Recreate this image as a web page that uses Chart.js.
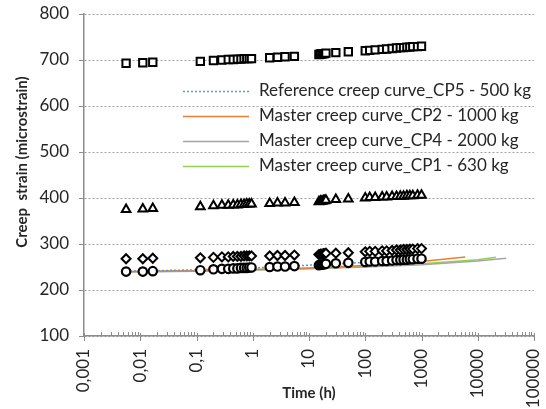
<!DOCTYPE html>
<html><head><meta charset="utf-8">
<script src="https://cdn.jsdelivr.net/npm/chart.js@4/dist/chart.umd.min.js"></script>
<style>html,body{margin:0;padding:0;background:#fff}</style>
</head><body>
<canvas id="c" width="546" height="409"></canvas>
<script>
// ---- data ----
const xTickLabels = ['0,001','0,01','0,1','1','10','100','1000','10000','100000'];

// measurement times (h), shared by the four test series
const timesH = [0.0056,0.0111,0.0167,0.117,0.2,0.283,0.367,0.45,0.533,0.617,0.7,0.783,0.867,0.95,
  2,2.75,3.75,5.5,15,16,17,18,19,20,30,50,100,120,150,200,240,300,360,420,480,550,620,700,850,1000];

const strainSquares = [693,694,695,697,699,700,701,701,702,702,703,703,703,703,
  705,706,707,708,712,713,713,714,714,715,716,718,720,721,722,723,724,725,726,727,727,728,728,729,729,730];
const strainTriangles = [375,376,377,381,383,384,384,385,385,386,386,387,387,387,
  388,389,389,390,392,393,393,394,394,395,397,398,400,401,401,402,402,403,403,404,404,405,405,405,406,406];
const strainDiamonds = [268,268,269,270,271,272,272,273,273,273,274,274,274,274,
  274,275,275,276,277,278,278,279,279,280,280,281,283,284,284,285,285,286,287,287,288,288,289,289,290,290];
const strainCircles = [240,240,241,243,245,246,246,247,247,248,248,248,249,249,
  250,251,251,252,254,255,255,256,256,257,258,259,261,262,262,263,263,264,265,265,266,266,267,267,268,268];

// curves
const refCP5Time = [0.0056,0.0167,0.117,1,5,20,100,1000];
const refCP5Strain = [241,242,244,248,252,256,260,267];
const cp2Time = [0.0056,0.1,1,10,100,1000,6000];
const cp2Strain = [240,242,244.5,248,253,262,272];
const cp4Time = [0.0056,0.1,1,10,100,1000,10000,32000];
const cp4Strain = [239,241,243.5,246,250,255,263,269];
const cp1Time = [0.0056,0.1,1,10,100,1000,10000,21000];
const cp1Strain = [239.5,241.5,244,247,251,257,266,271];

const pts = (xs, ys) => xs.map((x, i) => ({x, y: ys[i]}));

const FONT = 'Lato, "Open Sans", sans-serif';
const TEXT = '#262626';
const AXIS = '#8c8c8c';

function markerSet(label, ys, style, r, bw) {
  return {label, data: pts(timesH, ys), pointStyle: style, pointRadius: r,
    pointBorderColor: '#000', pointBackgroundColor: '#fff', pointBorderWidth: bw,
    showLine: false, order: 0, isLegend: false};
}
function curveSet(label, xs, ys, color, dash) {
  return {label, data: pts(xs, ys), showLine: true, pointRadius: 0, borderColor: color,
    backgroundColor: color, borderWidth: 1.5, borderDash: dash || [], fill: false,
    order: 1, isLegend: true};
}

const datasets = [
  markerSet('CP4 - 2000 kg (test)', strainSquares, 'rect', 5.2, 2),
  markerSet('CP2 - 1000 kg (test)', strainTriangles, 'triangle', 5, 2),
  markerSet('CP1 - 630 kg (test)', strainDiamonds, 'rectRot', 4.5, 2),
  markerSet('CP5 - 500 kg (test)', strainCircles, 'circle', 4.2, 2.2),
  curveSet('Reference creep curve_CP5 - 500 kg', refCP5Time, refCP5Strain, '#5B9BD5', [2, 2]),
  curveSet('Master creep curve_CP2 - 1000 kg', cp2Time, cp2Strain, '#ED7D31'),
  curveSet('Master creep curve_CP4 - 2000 kg', cp4Time, cp4Strain, '#A5A5A5'),
  curveSet('Master creep curve_CP1 - 630 kg', cp1Time, cp1Strain, '#92D050')
];

const extras = {
  id: 'extras',
  afterDraw(chart) {
    const ctx = chart.ctx;
    const xs = chart.scales.x;
    const base = chart.chartArea.bottom;
    ctx.save();
    // x axis tick marks: majors outside, minors inside
    ctx.strokeStyle = AXIS; ctx.lineWidth = 1;
    for (let e = -3; e <= 5; e++) {
      const px = Math.round(xs.getPixelForValue(Math.pow(10, e))) + 0.5;
      ctx.beginPath(); ctx.moveTo(px, base - 3); ctx.lineTo(px, base + 5); ctx.stroke();
      if (e < 5) for (let k = 2; k <= 9; k++) {
        const p = Math.round(xs.getPixelForValue(k * Math.pow(10, e))) + 0.5;
        ctx.beginPath(); ctx.moveTo(p, base - 4); ctx.lineTo(p, base); ctx.stroke();
      }
    }
    // y axis title
    ctx.fillStyle = TEXT;
    ctx.font = 'bold 15px ' + FONT;
    ctx.textAlign = 'center'; ctx.textBaseline = 'middle';
    ctx.translate(22, 162); ctx.rotate(-Math.PI / 2);
    ctx.fillText('Creep  strain (microstrain)', 0, 0);
    ctx.restore();
    // legend
    ctx.save();
    const rows = [91, 116, 141, 166];
    ctx.font = '17px ' + FONT;
    ctx.textAlign = 'left'; ctx.textBaseline = 'middle';
    chart.data.datasets.filter(d => d.isLegend).forEach((d, i) => {
      const y = rows[i] + 0.5;
      ctx.strokeStyle = d.borderColor; ctx.lineWidth = d.borderWidth;
      ctx.setLineDash(d.borderDash);
      ctx.beginPath(); ctx.moveTo(183, y); ctx.lineTo(249, y); ctx.stroke();
      ctx.setLineDash([]);
      ctx.fillStyle = TEXT;
      ctx.fillText(d.label, 259, rows[i]);
    });
    ctx.restore();
  }
};

new Chart(document.getElementById('c'), {
  type: 'scatter',
  data: {datasets},
  plugins: [extras],
  options: {
    responsive: false, animation: false,
    layout: {padding: {left: 0, right: 12, top: 14, bottom: 0}},
    plugins: {legend: {display: false}, tooltip: {enabled: false}},
    scales: {
      x: {
        type: 'logarithmic', min: 0.001, max: 100000, position: 'bottom',
        afterFit(s) { s.height = 73; s.paddingLeft = 0; s.paddingRight = 0; },
        grid: {display: false, drawTicks: false},
        border: {display: true, color: AXIS, width: 1.5},
        ticks: {
          autoSkip: false, minRotation: 90, maxRotation: 90, padding: 13, color: TEXT,
          font: {family: FONT, size: 17},
          callback(v) {
            const e = Math.log10(v);
            if (Math.abs(e - Math.round(e)) > 1e-6) return '';
            return xTickLabels[Math.round(e) + 3];
          }
        },
        title: {display: true, text: 'Time (h)', color: TEXT,
          font: {family: FONT, size: 15, weight: 'bold'}, padding: {top: 0, bottom: 7}}
      },
      y: {
        min: 100, max: 800,
        afterFit(s) { s.width = 84; s.paddingTop = 0; s.paddingBottom = 0; },
        grid: {color: '#a0a0a0', lineWidth: 1, tickColor: AXIS, tickLength: 5, tickWidth: 1},
        border: {color: AXIS, width: 1.5, dash: [2, 2]},
        ticks: {stepSize: 100, padding: 10, color: TEXT, font: {family: FONT, size: 17}}
      }
    }
  }
});
</script>
</body></html>
